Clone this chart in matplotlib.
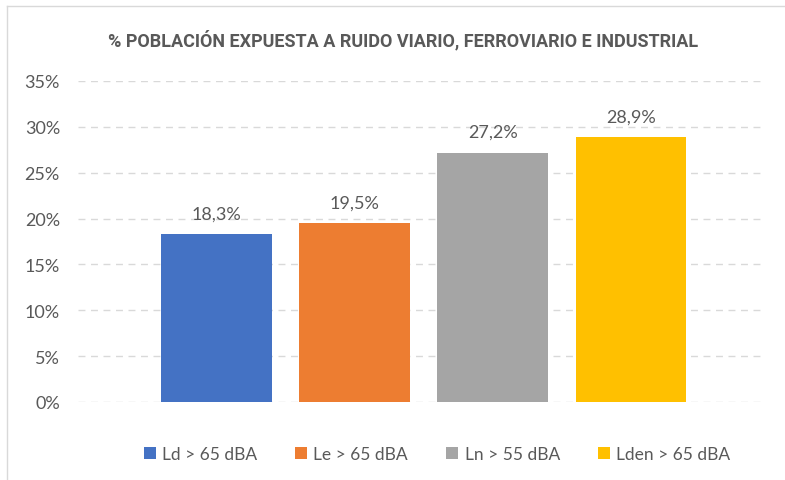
import matplotlib
matplotlib.use("Agg")
import matplotlib.pyplot as plt
from matplotlib.patches import Patch
from matplotlib.lines import Line2D

title = "% POBLACIÓN EXPUESTA A RUIDO VIARIO, FERROVIARIO E INDUSTRIAL"
series = ["Ld > 65 dBA", "Le > 65 dBA", "Ln > 55 dBA", "Lden > 65 dBA"]
values = [0.183, 0.195, 0.272, 0.289]
labels = ["18,3%", "19,5%", "27,2%", "28,9%"]
colors = ["#4472C4", "#ED7D31", "#A5A5A5", "#FFC000"]
yticks = [0, 0.05, 0.10, 0.15, 0.20, 0.25, 0.30, 0.35]
ytick_labels = ["0%", "5%", "10%", "15%", "20%", "25%", "30%", "35%"]

txt = "#595959"
W, H = 785, 481
fig = plt.figure(figsize=(W / 100, H / 100), dpi=100)
ax = fig.add_axes([78 / W, 1 - 403 / H, (765 - 78) / W, (403 - 82) / H])

x = list(range(len(values)))
ax.bar(x, values, width=0.80, color=colors, zorder=3)
for xi, v, lab in zip(x, values, labels):
    ax.annotate(lab, (xi, v), xytext=(0, 9), textcoords="offset points",
                ha="center", va="bottom", fontsize=13, color=txt, family="Lato")

ax.set_xlim(-1.0, 3.97)
ax.set_ylim(0, 0.35)
ax.set_yticks(yticks)
ax.set_yticklabels(ytick_labels, fontsize=13, color=txt, family="Lato")
ax.set_xticks([])
ax.tick_params(axis="y", length=0, pad=13)
for s in ax.spines.values():
    s.set_visible(False)
ax.yaxis.grid(True, color="#D9D9D9", linestyle=(0, (5, 4)), linewidth=1.0, zorder=0)
ax.set_axisbelow(True)

fig.text(0.5 * (107 + 700) / W, 1 - 40 / H, title, ha="center", va="center",
         fontsize=13, fontweight="bold", color=txt, family="Roboto")

handles = [Patch(facecolor=c, edgecolor="none") for c in colors]
fig.legend(handles, series, loc="center", bbox_to_anchor=(437 / W, 1 - 455 / H),
           ncol=4, frameon=False, handlelength=0.7, handleheight=0.7, handletextpad=0.35,
           columnspacing=2.2, prop={"family": "Lato", "size": 12.5}, labelcolor=txt)

# chart border (left and top edges)
fig.add_artist(Line2D([7 / W, 7 / W], [0, 1 - 7 / H], transform=fig.transFigure, color="#D9D9D9", lw=1))
fig.add_artist(Line2D([7 / W, 1], [1 - 7 / H, 1 - 7 / H], transform=fig.transFigure, color="#D9D9D9", lw=1))

fig.savefig("out.png", dpi=100)
